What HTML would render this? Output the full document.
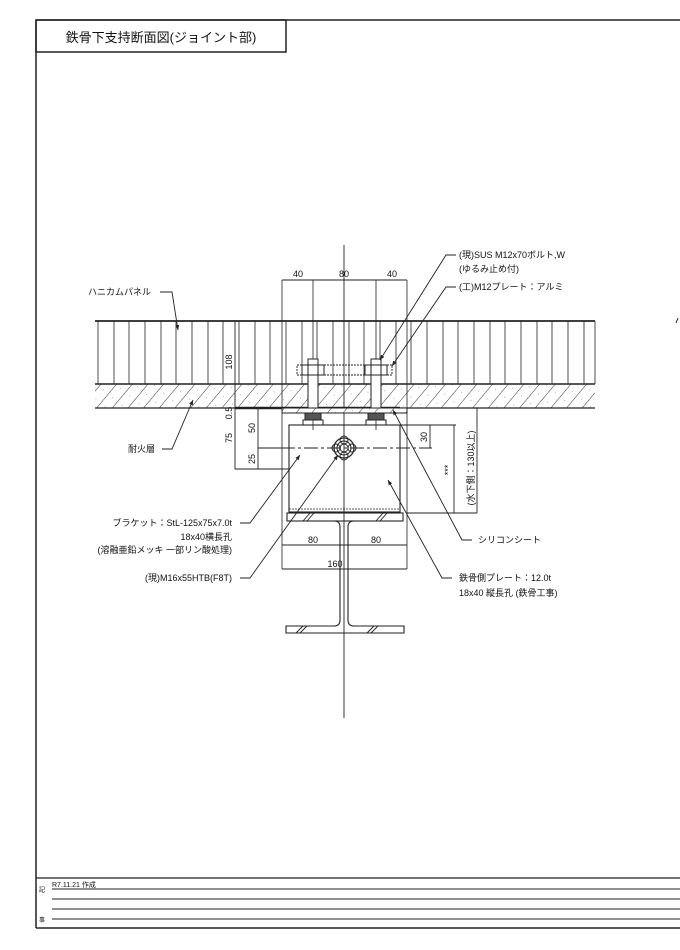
<!DOCTYPE html>
<html><head><meta charset="utf-8"><style>
html,body{margin:0;padding:0;background:#fff;}
svg{display:block;}
text{font-family:"Liberation Sans","Noto Sans CJK JP",sans-serif;fill:#111;}
</style></head><body>
<svg width="680" height="950" viewBox="0 0 680 950" xmlns="http://www.w3.org/2000/svg">
<defs>
<pattern id="hat" patternUnits="userSpaceOnUse" width="12" height="12" patternTransform="rotate(40)">
<rect width="12" height="12" fill="#fff"/>
<line x1="0" y1="0" x2="0" y2="12" stroke="#333" stroke-width="1"/>
<circle cx="6" cy="4" r="0.5" fill="#999"/>
</pattern>
<marker id="ar" markerWidth="6" markerHeight="6" refX="5" refY="3" orient="auto" markerUnits="userSpaceOnUse">
<path d="M0,1 L5,3 L0,5 Z" fill="#222"/>
</marker>
</defs>
<g stroke="#222" fill="none">
<line x1="36" y1="20" x2="680" y2="20" stroke-width="1.5"/>
<line x1="36" y1="20" x2="36" y2="928" stroke-width="1.5"/>
<line x1="36" y1="928" x2="680" y2="928" stroke-width="1.5"/>
<rect x="36" y="20" width="250" height="32" stroke-width="1.5"/>
<line x1="36" y1="878" x2="680" y2="878" stroke-width="1.3"/>
<line x1="52" y1="889" x2="680" y2="889" stroke-width="1"/>
<line x1="52" y1="899" x2="680" y2="899" stroke-width="1"/>
<line x1="52" y1="909" x2="680" y2="909" stroke-width="1"/>
<line x1="52" y1="919" x2="680" y2="919" stroke-width="1"/>
<line x1="676" y1="323" x2="678" y2="318" stroke-width="1"/>

<rect x="95" y="384" width="500" height="24" fill="url(#hat)" stroke="none"/>
<line x1="95" y1="321" x2="595" y2="321" stroke-width="1.8"/>
<line x1="95" y1="384" x2="595" y2="384" stroke-width="1.6"/>
<line x1="95" y1="408" x2="595" y2="408" stroke-width="1.2"/>
<g stroke-width="0.8">
<line x1="98" y1="321" x2="98" y2="384"/><line x1="114" y1="321" x2="114" y2="384"/><line x1="129" y1="321" x2="129" y2="384"/><line x1="145" y1="321" x2="145" y2="384"/><line x1="161" y1="321" x2="161" y2="384"/><line x1="176" y1="321" x2="176" y2="384"/><line x1="192" y1="321" x2="192" y2="384"/><line x1="208" y1="321" x2="208" y2="384"/><line x1="223" y1="321" x2="223" y2="384"/><line x1="239" y1="321" x2="239" y2="384"/><line x1="255" y1="321" x2="255" y2="384"/><line x1="270" y1="321" x2="270" y2="384"/><line x1="286" y1="321" x2="286" y2="384"/><line x1="302" y1="321" x2="302" y2="384"/><line x1="317" y1="321" x2="317" y2="384"/><line x1="333" y1="321" x2="333" y2="384"/><line x1="349" y1="321" x2="349" y2="384"/><line x1="364" y1="321" x2="364" y2="384"/><line x1="380" y1="321" x2="380" y2="384"/><line x1="396" y1="321" x2="396" y2="384"/><line x1="411" y1="321" x2="411" y2="384"/><line x1="427" y1="321" x2="427" y2="384"/><line x1="443" y1="321" x2="443" y2="384"/><line x1="458" y1="321" x2="458" y2="384"/><line x1="474" y1="321" x2="474" y2="384"/><line x1="490" y1="321" x2="490" y2="384"/><line x1="505" y1="321" x2="505" y2="384"/><line x1="521" y1="321" x2="521" y2="384"/><line x1="537" y1="321" x2="537" y2="384"/><line x1="552" y1="321" x2="552" y2="384"/><line x1="568" y1="321" x2="568" y2="384"/><line x1="584" y1="321" x2="584" y2="384"/><line x1="595" y1="321" x2="595" y2="384"/>
</g>
<line x1="235" y1="408" x2="400" y2="408" stroke-width="2.5"/>

<line x1="344" y1="245" x2="344" y2="718" stroke-width="0.9"/>

<line x1="282" y1="280" x2="407" y2="280" stroke-width="1"/>
<line x1="282" y1="280" x2="282" y2="513" stroke-width="0.8"/>
<line x1="407" y1="280" x2="407" y2="513" stroke-width="0.8"/>
<line x1="313" y1="280" x2="313" y2="430" stroke-width="0.8"/>
<line x1="376" y1="280" x2="376" y2="430" stroke-width="0.8"/>

<rect x="297" y="365" width="95" height="10" stroke-width="0.9" stroke-dasharray="2 1"/>
<g stroke-width="1">
<rect x="308" y="359" width="10" height="61" fill="#fff"/>
<rect x="302" y="365" width="22" height="10"/>
<rect x="305" y="410" width="16" height="10" fill="#555"/>
<rect x="303" y="420" width="20" height="5"/>
<rect x="371" y="359" width="10" height="61" fill="#fff"/>
<rect x="365" y="365" width="22" height="10"/>
<rect x="368" y="410" width="16" height="10" fill="#555"/>
<rect x="366" y="420" width="20" height="5"/>
</g>

<rect x="282" y="408" width="125" height="5" fill="url(#hat)" stroke-width="1"/>
<rect x="289" y="425" width="111" height="87" stroke-width="1.1"/>
<line x1="258" y1="448" x2="432" y2="448" stroke-width="0.9" stroke-dasharray="14 3 3 3"/>
<circle cx="344" cy="448" r="10" stroke-width="1.2"/>
<circle cx="344" cy="448" r="7" stroke-width="1"/>
<circle cx="344" cy="448" r="4" stroke-width="1"/>
<circle cx="344" cy="440" r="4" stroke-width="1"/><circle cx="344" cy="456" r="4" stroke-width="1"/>
<circle cx="336" cy="448" r="4" stroke-width="1"/><circle cx="352" cy="448" r="4" stroke-width="1"/>

<rect x="289" y="509" width="111" height="4" stroke-width="0.8" stroke-dasharray="2 1"/>
<rect x="287" y="513" width="116" height="8" stroke-width="1.1"/>
<path d="M287 521 H334 Q340 521 340 527 V620 Q340 626 334 626 H286 V633 H404 V626 H354 Q348 626 348 620 V527 Q348 521 354 521" stroke-width="1.1"/>
<g stroke-width="0.9">
<line x1="303" y1="521" x2="310" y2="513"/><line x1="307" y1="521" x2="314" y2="513"/>
<line x1="376" y1="521" x2="383" y2="513"/><line x1="380" y1="521" x2="387" y2="513"/>
<line x1="296" y1="633" x2="303" y2="626"/><line x1="300" y1="633" x2="307" y2="626"/>
<line x1="367" y1="633" x2="374" y2="626"/><line x1="371" y1="633" x2="378" y2="626"/>
</g>

<line x1="282" y1="545" x2="407" y2="545" stroke-width="1"/>
<line x1="282" y1="569" x2="407" y2="569" stroke-width="1"/>
<line x1="282" y1="513" x2="282" y2="569" stroke-width="0.8"/>
<line x1="407" y1="513" x2="407" y2="569" stroke-width="0.8"/>

<line x1="235" y1="321" x2="235" y2="469" stroke-width="0.9"/>
<line x1="258" y1="408" x2="258" y2="469" stroke-width="0.9"/>
<line x1="235" y1="469" x2="290" y2="469" stroke-width="0.9"/>
<line x1="258" y1="448" x2="290" y2="448" stroke-width="0.9"/>

<line x1="400" y1="425" x2="456" y2="425" stroke-width="0.9"/>
<line x1="430" y1="425" x2="430" y2="448" stroke-width="0.9"/>
<line x1="454" y1="425" x2="454" y2="513" stroke-width="0.9"/>
<line x1="477" y1="408" x2="477" y2="513" stroke-width="0.9"/>
<line x1="407" y1="513" x2="477" y2="513" stroke-width="0.9"/>

<g stroke-width="0.9" marker-end="url(#ar)">
<polyline points="160,292 172,292 178,330"/>
<polyline points="162,449 172,449 193,400"/>
<polyline points="240,523 250,523 300,455"/>
<polyline points="240,578 250,578 338,455"/>
<polyline points="472,540 462,540 393,410"/>
<polyline points="452,578 442,578 388,480"/>
<polyline points="456,255 446,255 380,360"/>
<polyline points="456,287 446,287 392,366"/>
</g>
</g>

<text x="161" y="42" font-size="13" text-anchor="middle">鉄骨下支持断面図(ジョイント部)</text>
<g font-size="9">
<text x="298" y="277" text-anchor="middle">40</text>
<text x="344" y="277" text-anchor="middle">80</text>
<text x="392" y="277" text-anchor="middle">40</text>
<text x="313" y="543" text-anchor="middle">80</text>
<text x="376" y="543" text-anchor="middle">80</text>
<text x="335" y="567" text-anchor="middle">160</text>
<text transform="translate(232,362) rotate(-90)" text-anchor="middle">108</text>
<text transform="translate(232,413) rotate(-90)" text-anchor="middle">0.5</text>
<text transform="translate(232,438) rotate(-90)" text-anchor="middle">75</text>
<text transform="translate(255,428) rotate(-90)" text-anchor="middle">50</text>
<text transform="translate(255,459) rotate(-90)" text-anchor="middle">25</text>
<text transform="translate(427,437) rotate(-90)" text-anchor="middle">30</text>
<text transform="translate(451,470) rotate(-90)" text-anchor="middle">***</text>
<text transform="translate(474,468) rotate(-90)" text-anchor="middle">(水下側：130以上)</text>
<text x="88" y="295">ハニカムパネル</text>
<text x="128" y="452">耐火層</text>
<text x="232" y="526" text-anchor="end">ブラケット：StL-125x75x7.0t</text>
<text x="232" y="540" text-anchor="end">18x40横長孔</text>
<text x="232" y="553" text-anchor="end">(溶融亜鉛メッキ 一部リン酸処理)</text>
<text x="232" y="581" text-anchor="end">(現)M16x55HTB(F8T)</text>
<text x="478" y="543">シリコンシート</text>
<text x="459" y="581">鉄骨側プレート：12.0t</text>
<text x="459" y="596">18x40 縦長孔 (鉄骨工事)</text>
<text x="459" y="258">(現)SUS M12x70ボルト,W</text>
<text x="459" y="272">(ゆるみ止め付)</text>
<text x="459" y="290">(工)M12プレート：アルミ</text>
</g>
<text x="52" y="887" font-size="7">R7.11.21 作成</text>
<text x="39" y="892" font-size="6">記</text>
<text x="39" y="922" font-size="6">事</text>
</svg>
</body></html>
